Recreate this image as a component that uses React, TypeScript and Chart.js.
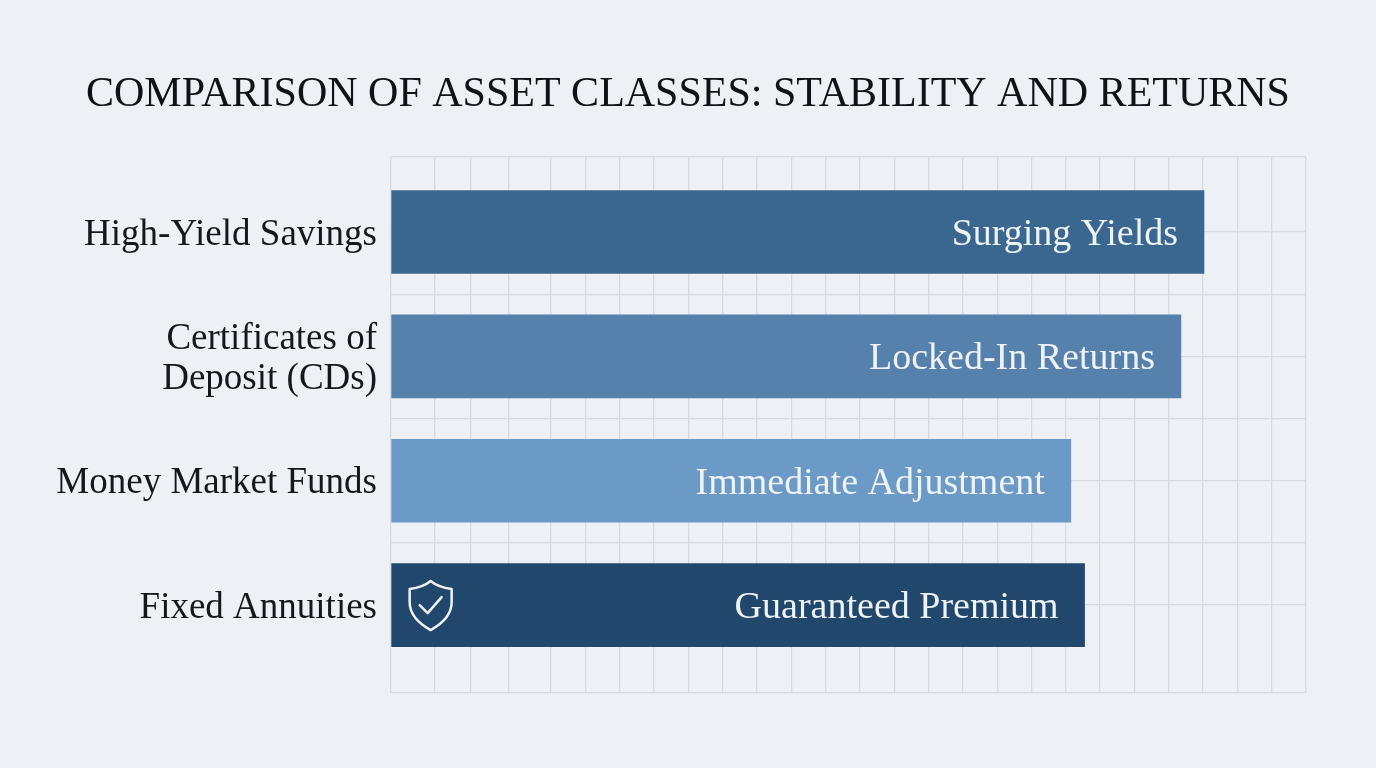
import React, { useEffect, useRef } from "react";
import { Chart, registerables } from "chart.js";

Chart.register(...registerables);

const titleText = "COMPARISON OF ASSET CLASSES: STABILITY AND RETURNS";
const categories: string[][] = [
  ["High-Yield Savings"],
  ["Certificates of", "Deposit (CDs)"],
  ["Money Market Funds"],
  ["Fixed Annuities"],
];
const values = [88.85, 86.33, 74.3, 75.8];
const barLabels = ["Surging Yields", "Locked-In Returns", "Immediate Adjustment", "Guaranteed Premium"];
const barColors = ["#3a678f", "#5781ad", "#6c9ac6", "#21486c"];
const xGrid = [
  0, 4.8, 8.74, 12.9, 17.5, 21.25, 25, 28.75, 32.5, 36.25, 40, 43.75, 47.5, 51.25, 55, 58.75, 62.5,
  66.25, 70, 73.75, 77.5, 81.25, 85, 88.75, 92.5, 96.25, 100,
];
const yGrid = [-0.603, 0, 0.5, 1, 1.5, 2, 2.5, 3, 3.707];
const iconRow = 3;

const FONT = '"Liberation Serif", serif';
const INK = "#14171c";
const GRID = "#d6dbe2";
const LABEL_SHIFT = 0.024;

const barText = {
  id: "barText",
  afterDatasetsDraw(chart: any) {
    const { ctx } = chart;
    const meta = chart.getDatasetMeta(0);
    ctx.save();
    ctx.font = `38px ${FONT}`;
    ctx.fillStyle = "#eef3f8";
    ctx.textAlign = "right";
    ctx.textBaseline = "middle";
    meta.data.forEach((el: any, i: number) => {
      ctx.fillText(barLabels[i], el.x - 26, el.y + 3);
    });
    const el = meta.data[iconRow];
    const x = el.base + 39;
    const y = el.y;
    ctx.strokeStyle = "#eef3f8";
    ctx.lineWidth = 2.5;
    ctx.lineJoin = "round";
    ctx.lineCap = "round";
    ctx.beginPath();
    ctx.moveTo(x, y - 24);
    ctx.bezierCurveTo(x - 6, y - 19, x - 13, y - 17, x - 21, y - 16);
    ctx.lineTo(x - 21, y - 3);
    ctx.bezierCurveTo(x - 21, y + 10, x - 11, y + 19, x, y + 25);
    ctx.bezierCurveTo(x + 11, y + 19, x + 21, y + 10, x + 21, y - 3);
    ctx.lineTo(x + 21, y - 16);
    ctx.bezierCurveTo(x + 13, y - 17, x + 6, y - 19, x, y - 24);
    ctx.closePath();
    ctx.stroke();
    ctx.beginPath();
    ctx.moveTo(x - 11, y);
    ctx.lineTo(x - 3, y + 8);
    ctx.lineTo(x + 11, y - 8);
    ctx.stroke();
    ctx.restore();
  },
};

export default function App() {
  const ref = useRef<HTMLCanvasElement>(null);
  useEffect(() => {
    const chart = new Chart(ref.current!, {
      type: "bar",
      plugins: [barText],
      data: {
        datasets: [
          {
            data: values.map((v, i) => ({ x: v, y: i })),
            backgroundColor: barColors,
            barThickness: 83,
            borderWidth: 0,
          },
        ],
      },
      options: {
        indexAxis: "y",
        animation: false,
        responsive: false,
        layout: { padding: { left: 0, right: 0, top: 0, bottom: 75 } },
        plugins: {
          legend: { display: false },
          tooltip: { enabled: false },
          title: {
            display: true,
            text: titleText,
            color: "#0f1216",
            font: { family: FONT, size: 42, weight: "normal", lineHeight: "50px" },
            padding: { top: 70, bottom: 37 },
          },
        },
        scales: {
          x: {
            type: "linear",
            min: 0,
            max: 100,
            afterBuildTicks: (s: any) => {
              s.ticks = xGrid.map((value) => ({ value }));
            },
            grid: { color: GRID, lineWidth: 1.3, drawTicks: false },
            border: { display: false },
            ticks: { display: false, autoSkip: false },
          },
          y: {
            type: "linear",
            reverse: true,
            offset: false,
            min: yGrid[0],
            max: yGrid[yGrid.length - 1],
            afterBuildTicks: (s: any) => {
              s.ticks = yGrid.map((value) => ({ value }));
            },
            afterFit: (s: any) => {
              s.width = 0;
            },
            grid: { color: GRID, lineWidth: 1.3, drawTicks: false, offset: false },
            border: { display: false },
            ticks: { display: false, autoSkip: false },
          },
          yLabels: {
            type: "linear",
            axis: "y",
            position: "left",
            reverse: true,
            offset: false,
            min: yGrid[0] - LABEL_SHIFT,
            max: yGrid[yGrid.length - 1] - LABEL_SHIFT,
            afterBuildTicks: (s: any) => {
              s.ticks = categories.map((_, value) => ({ value }));
            },
            afterFit: (s: any) => {
              s.width = 391;
            },
            grid: { display: false },
            border: { display: false },
            ticks: {
              autoSkip: false,
              padding: 6,
              color: INK,
              font: { family: FONT, size: 37, lineHeight: "40px" },
              callback: (v: any) => categories[v],
            },
          },
          rightMargin: {
            type: "linear",
            axis: "y",
            position: "right",
            afterFit: (s: any) => {
              s.width = 70;
            },
            grid: { display: false },
            border: { display: false },
            ticks: { display: false },
          },
        },
      },
    } as any);
    return () => chart.destroy();
  }, []);
  return (
    <div style={{ position: "fixed", left: 0, top: 0, width: 1376, height: 768, background: "#edf1f6" }}>
      <canvas ref={ref} width={1376} height={768} style={{ display: "block" }} />
    </div>
  );
}
